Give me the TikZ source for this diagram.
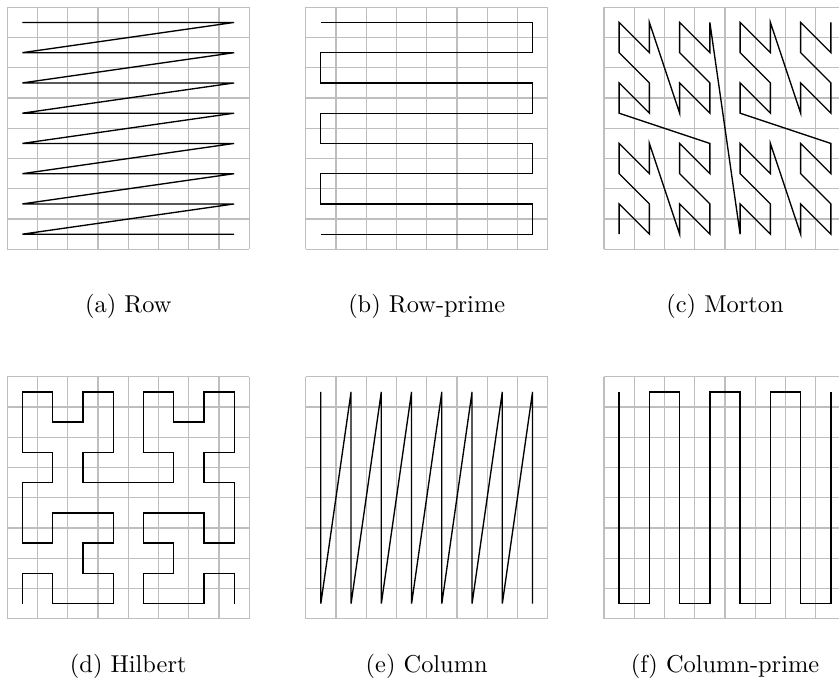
\documentclass[tikz,border=0pt]{standalone}
\usepackage{tikz}
\definecolor{gridgray}{RGB}{190,190,190}
\tikzset{
  gridline/.style={draw=gridgray, line width=0.5pt},
  curve/.style={draw=black, line width=0.55pt, line join=miter},
  caption/.style={anchor=base, inner sep=0pt, font=\normalsize}
}
\newcommand{\panelgrid}{%
  \foreach \i in {0,...,8} {
    \draw[gridline] (\i,0) -- (\i,8);
    \draw[gridline] (0,\i) -- (8,\i);
  }%
}
\begin{document}
\begin{tikzpicture}[x=0.41pt, y=-0.41pt]
\useasboundingbox (0,0) rectangle (839,688);
\clip (0,0) rectangle (839,688);
\fill[white] (0,0) rectangle (839,688);

% (a) Row
\begin{scope}[shift={(7.3,7.3)}, x=12.4025pt, y=-12.4025pt]
  \panelgrid
  \begin{scope}[shift={(0.5,0.5)}]
    \draw[curve] (0,0) -- (7,0) -- (0,1) -- (7,1) -- (0,2) -- (7,2) -- (0,3) -- (7,3)
      -- (0,4) -- (7,4) -- (0,5) -- (7,5) -- (0,6) -- (7,6) -- (0,7) -- (7,7);
  \end{scope}
\end{scope}

% (b) Row-prime
\begin{scope}[shift={(305.7,7.3)}, x=12.4025pt, y=-12.4025pt]
  \panelgrid
  \begin{scope}[shift={(0.5,0.5)}]
    \draw[curve] (0,0) -- (7,0) -- (7,1) -- (0,1) -- (0,2) -- (7,2) -- (7,3) -- (0,3)
      -- (0,4) -- (7,4) -- (7,5) -- (0,5) -- (0,6) -- (7,6) -- (7,7) -- (0,7);
  \end{scope}
\end{scope}

% (c) Morton
\begin{scope}[shift={(604,7.3)}, x=12.4025pt, y=-12.4025pt]
  \panelgrid
  \begin{scope}[shift={(0.5,0.5)}]
    \draw[curve] (0,7) -- (0,6) -- (1,7) -- (1,6) -- (0,5) -- (0,4) -- (1,5) -- (1,4)
      -- (2,7) -- (2,6) -- (3,7) -- (3,6) -- (2,5) -- (2,4) -- (3,5) -- (3,4)
      -- (0,3) -- (0,2) -- (1,3) -- (1,2) -- (0,1) -- (0,0) -- (1,1) -- (1,0)
      -- (2,3) -- (2,2) -- (3,3) -- (3,2) -- (2,1) -- (2,0) -- (3,1) -- (3,0)
      -- (4,7) -- (4,6) -- (5,7) -- (5,6) -- (4,5) -- (4,4) -- (5,5) -- (5,4)
      -- (6,7) -- (6,6) -- (7,7) -- (7,6) -- (6,5) -- (6,4) -- (7,5) -- (7,4)
      -- (4,3) -- (4,2) -- (5,3) -- (5,2) -- (4,1) -- (4,0) -- (5,1) -- (5,0)
      -- (6,3) -- (6,2) -- (7,3) -- (7,2) -- (6,1) -- (6,0) -- (7,1) -- (7,0);
  \end{scope}
\end{scope}

% (d) Hilbert
\begin{scope}[shift={(7.3,376.7)}, x=12.4025pt, y=-12.4025pt]
  \panelgrid
  \begin{scope}[shift={(0.5,0.5)}]
    \draw[curve] (0,7) -- (0,6) -- (1,6) -- (1,7) -- (3,7) -- (3,6) -- (2,6) -- (2,5)
      -- (3,5) -- (3,4) -- (1,4) -- (1,5) -- (0,5) -- (0,3) -- (1,3) -- (1,2)
      -- (0,2) -- (0,0) -- (1,0) -- (1,1) -- (2,1) -- (2,0) -- (3,0) -- (3,2)
      -- (2,2) -- (2,3) -- (5,3) -- (5,2) -- (4,2) -- (4,0) -- (5,0) -- (5,1)
      -- (6,1) -- (6,0) -- (7,0) -- (7,2) -- (6,2) -- (6,3) -- (7,3) -- (7,5)
      -- (6,5) -- (6,4) -- (4,4) -- (4,5) -- (5,5) -- (5,6) -- (4,6) -- (4,7)
      -- (6,7) -- (6,6) -- (7,6) -- (7,7);
  \end{scope}
\end{scope}

% (e) Column
\begin{scope}[shift={(305.7,376.7)}, x=12.4025pt, y=-12.4025pt]
  \panelgrid
  \begin{scope}[shift={(0.5,0.5)}]
    \draw[curve] (0,0) -- (0,7) -- (1,0) -- (1,7) -- (2,0) -- (2,7) -- (3,0) -- (3,7)
      -- (4,0) -- (4,7) -- (5,0) -- (5,7) -- (6,0) -- (6,7) -- (7,0) -- (7,7);
  \end{scope}
\end{scope}

% (f) Column-prime
\begin{scope}[shift={(604,376.7)}, x=12.4025pt, y=-12.4025pt]
  \panelgrid
  \begin{scope}[shift={(0.5,0.5)}]
    \draw[curve] (0,0) -- (0,7) -- (1,7) -- (1,0) -- (2,0) -- (2,7) -- (3,7) -- (3,0)
      -- (4,0) -- (4,7) -- (5,7) -- (5,0) -- (6,0) -- (6,7) -- (7,7) -- (7,0);
  \end{scope}
\end{scope}

% captions
\node[caption] (capa) at (128.3,312) {(a) Row};
\node[caption] (capb) at (426.7,312) {(b) Row-prime};
\node[caption] (capc) at (725,312) {(c) Morton};
\node[caption] (capd) at (128.3,672) {(d) Hilbert};
\node[caption] (cape) at (426.7,672) {(e) Column};
\node[caption] (capf) at (725,672) {(f) Column-prime};
\end{tikzpicture}
\end{document}
